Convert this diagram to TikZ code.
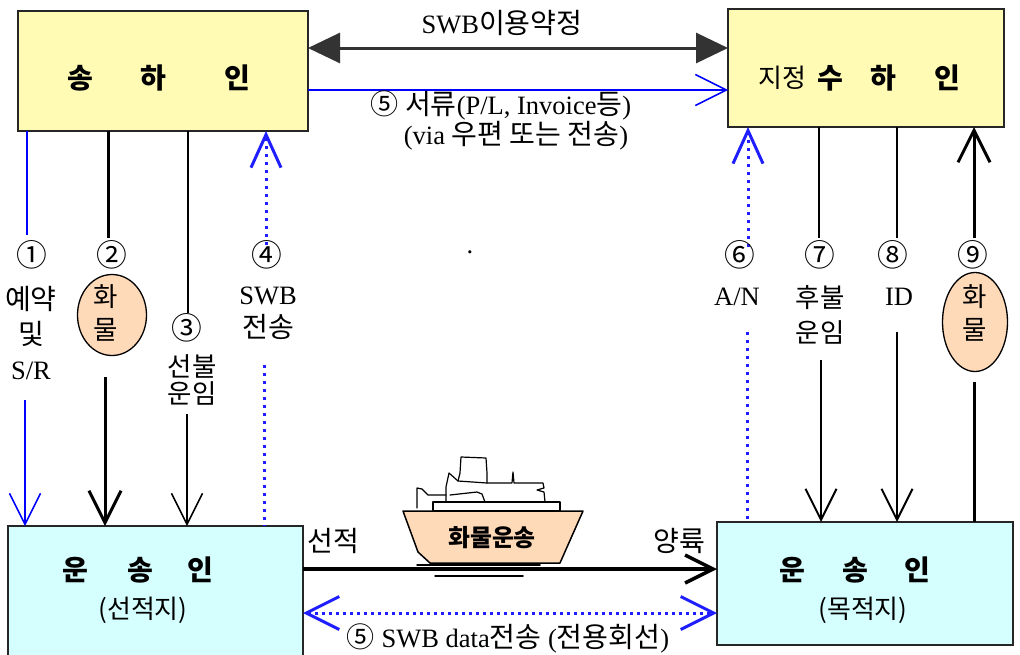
\documentclass[tikz,border=0pt]{standalone}
\usepackage{fontspec}
\setmainfont{Liberation Serif}
\newfontfamily\kr[Scale=1.06]{Noto Sans CJK KR}
\usetikzlibrary{arrows.meta,shapes.geometric}
\newcommand\hg[1]{{\kr #1}}
\definecolor{shipperfill}{HTML}{FFFBB5}
\definecolor{carrierfill}{HTML}{D5FFFF}
\definecolor{cargofill}{HTML}{FFDAB9}
\definecolor{linkblue}{HTML}{0000FF}
\definecolor{dotblue}{HTML}{1E1EFF}
\tikzset{
  box/.style={draw=black!85, line width=2pt, inner sep=0pt, outer sep=0pt, anchor=north west},
  partybox/.style={box, fill=shipperfill},
  carrierbox/.style={box, fill=carrierfill},
  cargo/.style={ellipse, draw=black, line width=1.3pt, fill=cargofill, inner sep=0pt},
  bigname/.style={font=\kr\bfseries\fontsize{26.5}{30}\selectfont, inner sep=0pt},
  subname/.style={font=\kr\fontsize{24.5}{26}\selectfont, inner sep=0pt},
  lbl/.style={font=\fontsize{26.5}{35}\selectfont, inner sep=0pt, align=center},
  num/.style={font=\kr\fontsize{29}{30}\selectfont, inner sep=0pt},
  vee/.style={-{Straight Barb[length=31pt,width=31pt]}},
  thinblue/.style={linkblue, line width=1.5pt},
  thickblack/.style={black, line width=3pt},
  thinblack/.style={black, line width=1.5pt},
  midblack/.style={black, line width=2pt},
  dotline/.style={dotblue, line width=3pt, dash pattern=on 3pt off 5pt},
}
\begin{document}
\begin{tikzpicture}[x=1pt,y=-1pt]
\useasboundingbox (0,0) rectangle (1020,654);

% parties
\node[partybox, minimum width=290pt, minimum height=120pt] (shipper) at (18,11) {};
\node[partybox, minimum width=276pt, minimum height=118pt] (consignee) at (728,9) {};
\node[carrierbox, minimum width=295pt, minimum height=140pt] (carrierA) at (8,526) {};
\node[carrierbox, minimum width=296pt, minimum height=123pt] (carrierB) at (717,522) {};

\node[bigname] (shipname) at (159,78) {송\hspace{47pt}하\hspace{59pt}인};
\node[subname] (designated) at (782,78) {지정};
\node[bigname] (consname) at (889,78) {수\hspace{27pt}하\hspace{39pt}인};
\node[bigname] (carAname) at (138,570) {운\hspace{39pt}송\hspace{35pt}인};
\node[subname] (carAsub) at (143,610) {(선적지)};
\node[bigname] (carBname) at (855,570) {운\hspace{37pt}송\hspace{37pt}인};
\node[subname] (carBsub) at (863,610) {(목적지)};

% agreement and documents between shipper and consignee
\coordinate (agreeY) at (500,48);
\coordinate (docY) at (500,90);
\draw[black!80, line width=3pt, {Triangle[length=32pt,width=30pt]}-{Triangle[length=32pt,width=30pt]}]
  (shipper.east |- agreeY) -- (consignee.west |- agreeY);
\node[lbl] (agreelbl) at (502,23) {SWB\hg{이용약정}};
\draw[thinblue, vee] (shipper.east |- docY) -- (consignee.west |- docY);
\node[lbl, font=\fontsize{26.5}{24}\selectfont] (doclbl) at (501,120)
  {\hg{⑤ 서류}(P/L, Invoice\hg{등})\\\hspace*{30pt}(via \hg{우편 또는 전송})};

% numbered flows, shipping side
\coordinate (a1) at (27,235);  \coordinate (b1) at (25,400);
\coordinate (a2) at (108,238); \coordinate (b2) at (105,377);
\coordinate (a3) at (188,313); \coordinate (b3) at (187,414);
\coordinate (a4) at (266,245); \coordinate (b4) at (264,365);
\draw[thinblue] (shipper.south -| a1) -- (a1);
\draw[thinblue, vee] (b1) -- (b1 |- carrierA.north);
\draw[thickblack] (shipper.south -| a2) -- (a2);
\draw[thickblack, -{Straight Barb[length=32pt,width=32pt]}] (b2) -- (b2 |- carrierA.north);
\draw[thinblack] (shipper.south -| a3) -- (a3);
\draw[thinblack, vee] (b3) -- (b3 |- carrierA.north);
\draw[dotline, -{Straight Barb[length=33pt,width=30pt]}] (a4) -- (a4 |- shipper.south);
\draw[dotline] (b4) -- (b4 |- carrierA.north);

\node[num] (c1) at (32,255) {①};
\node[lbl] (t1) at (31,333) {\hg{예약}\\\hg{및}\\S/R};
\node[num] (c2) at (112,255) {②};
\node[cargo, minimum width=69pt, minimum height=81pt] (e2) at (112,315) {};
\node[lbl, font=\kr\fontsize{25}{33}\selectfont] (t2) at (106,313) {화\\물};
\node[num] (c3) at (187,328) {③};
\node[lbl, font=\kr\fontsize{25}{27}\selectfont] (t3) at (192,380) {선불\\운임};
\node[num] (c4) at (267,255) {④};
\node[lbl, font=\fontsize{26.5}{33}\selectfont] (t4) at (268,313) {SWB\\\hg{전송}};

% numbered flows, destination side
\coordinate (a6) at (748,247); \coordinate (b6) at (747,332);
\coordinate (a7) at (819,238); \coordinate (b7) at (821,360);
\coordinate (a8) at (897,238); \coordinate (b8) at (897,332);
\coordinate (a9) at (974,238); \coordinate (b9) at (974,382);
\draw[dotline, -{Straight Barb[length=33pt,width=30pt]}] (a6) -- (a6 |- consignee.south);
\draw[dotline] (b6) -- (b6 |- carrierB.north);
\draw[midblack] (consignee.south -| a7) -- (a7);
\draw[midblack, vee] (b7) -- (b7 |- carrierB.north);
\draw[midblack] (consignee.south -| a8) -- (a8);
\draw[midblack, vee] (b8) -- (b8 |- carrierB.north);
\draw[thickblack, -{Straight Barb[length=32pt,width=32pt]}] (a9) -- (a9 |- consignee.south);
\draw[thickblack] (b9) -- (b9 |- carrierB.north);

\node[num] (c6) at (740,255) {⑥};
\node[lbl] (t6) at (737,297) {A/N};
\node[num] (c7) at (820,255) {⑦};
\node[lbl, font=\kr\fontsize{25}{35}\selectfont] (t7) at (820,315) {후불\\운임};
\node[num] (c8) at (893,255) {⑧};
\node[lbl] (t8) at (899,297) {ID};
\node[num] (c9) at (973,255) {⑨};
\node[cargo, minimum width=65pt, minimum height=99pt] (e9) at (975,322) {};
\node[lbl, font=\kr\fontsize{25}{33}\selectfont] (t9) at (975,313) {화\\물};

\node[lbl] (dot) at (470,252) {.};

% sea transport between carriers
\coordinate (seaY) at (500,569);
\coordinate (dataY) at (500,613);
\draw[black, line width=3.5pt, -{Straight Barb[length=28pt,width=28pt]}]
  (carrierA.east |- seaY) -- (carrierB.west |- seaY);
\draw[dotline, dash pattern=on 3pt off 4pt,
  {Straight Barb[length=33pt,width=33pt]}-{Straight Barb[length=33pt,width=33pt]}]
  (carrierA.east |- dataY) -- (carrierB.west |- dataY);
\node[lbl] (loadlbl) at (333,541) {\hg{선적}};
\node[lbl] (unloadlbl) at (679,541) {\hg{양륙}};
\node[lbl] (datalbl) at (508,638) {\hg{⑤} SWB data\hg{전송} (\hg{전용회선})};

% the vessel
\begin{scope}[line join=round, line cap=round]
  \draw[line width=1.2pt] (417,508) -- (417,488) -- (422,489) -- (428,495) -- (446,495);
  \draw[line width=1.2pt] (446,502) -- (446,487) -- (449,473) -- (458,481) -- (487,483) -- (512,483)
    -- (513,472) -- (514,483) -- (543,483) -- (544,488) -- (537,490) -- (544,492) -- (545,502);
  \draw[line width=1.2pt] (458,481) -- (460,473) -- (461,457) -- (486,458) -- (487,473) -- (487,483);
  \draw[line width=1.2pt] (450,495) -- (477,492) -- (482,494) -- (485,502);
  \draw[line width=1.5pt, fill=white] (433,502) rectangle (560,511);
  \draw[line width=1.5pt, fill=cargofill] (403,511) -- (583,511) -- (560,563) -- (430,563) -- (418,552) -- cycle;
  \draw[line width=1.5pt] (417,565) -- (540,565);
  \draw[line width=1.5pt] (435,576) -- (523,576);
\end{scope}
\node[font=\kr\bfseries\fontsize{22.5}{26}\selectfont, inner sep=0pt] (cargolbl) at (492,538) {화물운송};
\end{tikzpicture}
\end{document}
